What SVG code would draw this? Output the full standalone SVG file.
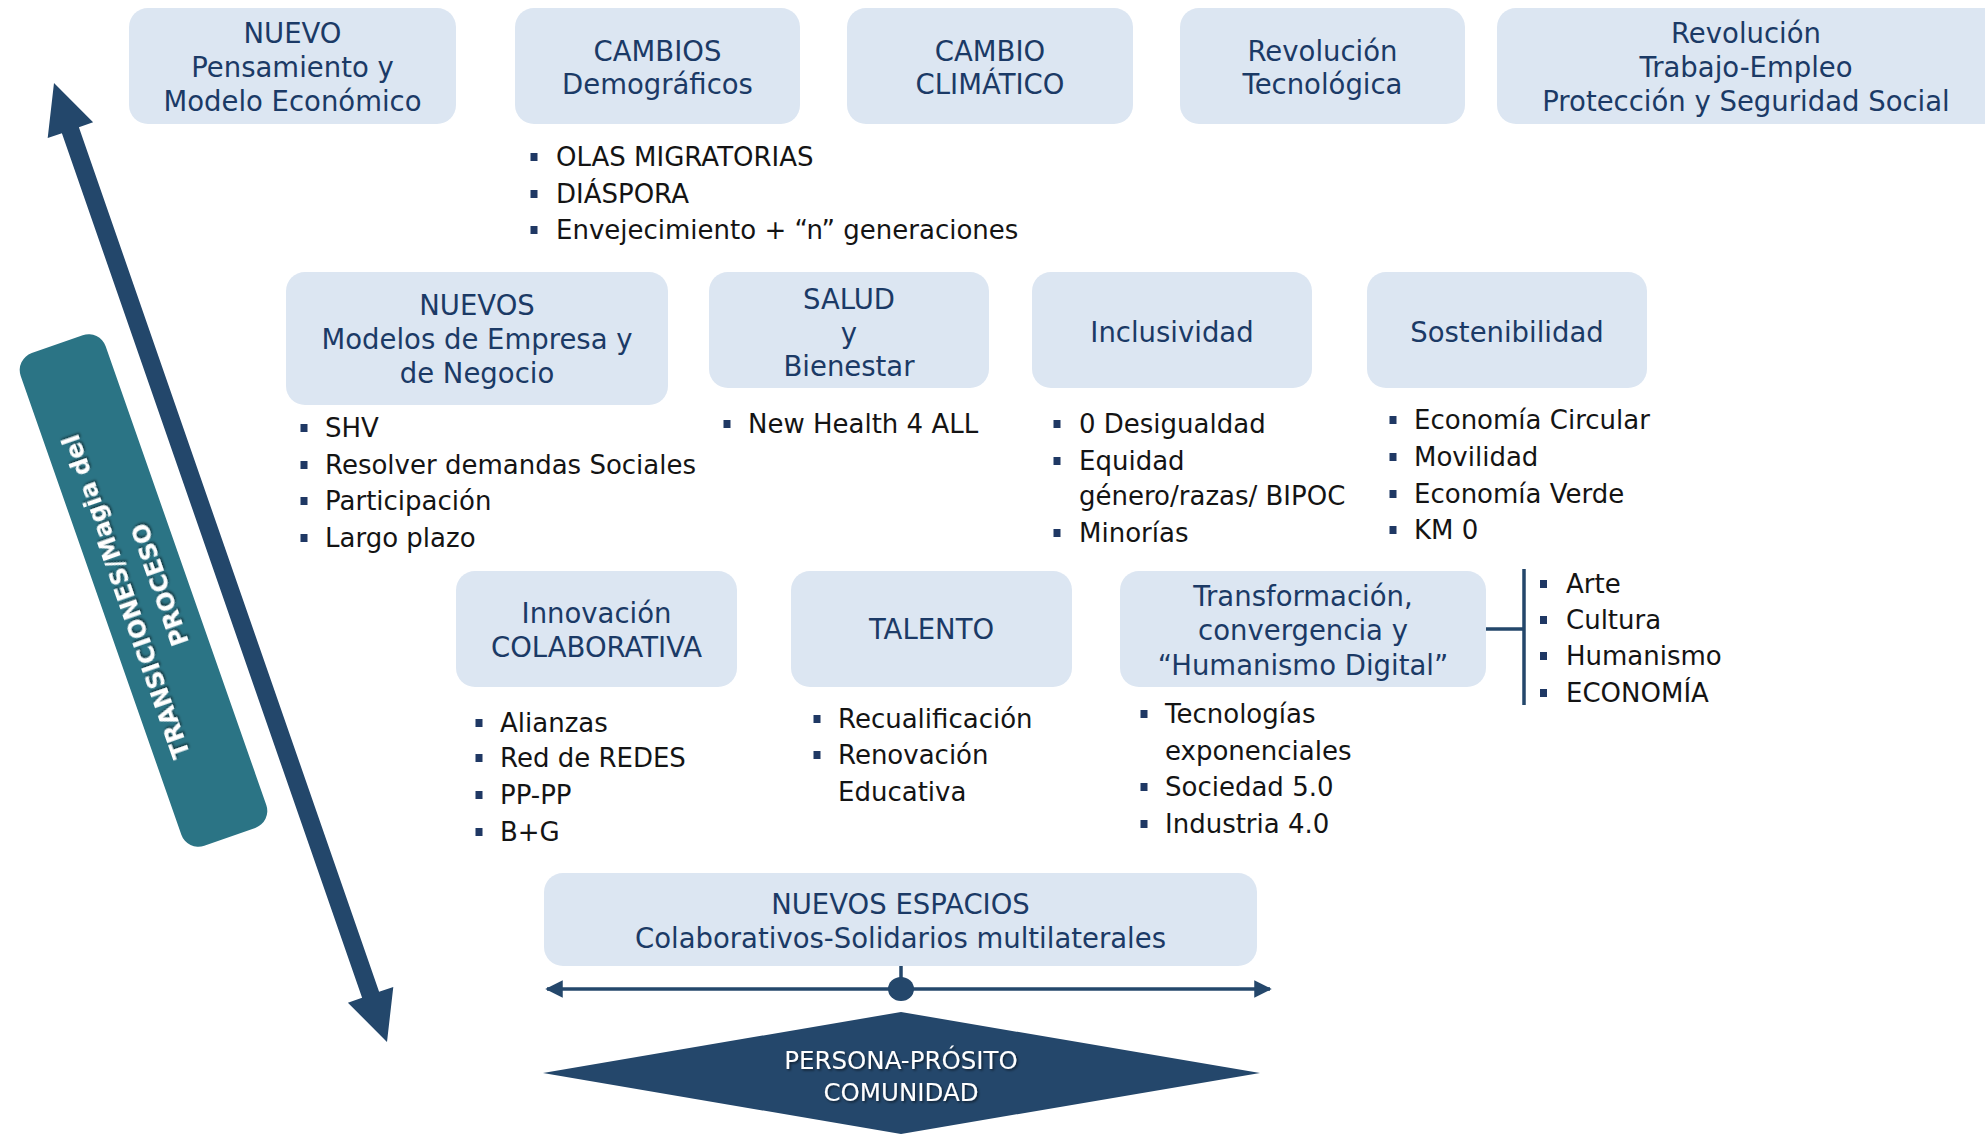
<svg xmlns="http://www.w3.org/2000/svg" xmlns:xlink="http://www.w3.org/1999/xlink" width="1985" height="1135" viewBox="0 0 1985 1135">
<style>
.box{fill:#dce6f2}
.t{font-family:"DejaVu Sans",sans-serif;font-size:27.5px;fill:#1b3a66;text-anchor:middle}
.b{font-family:"DejaVu Sans",sans-serif;font-size:26px;fill:#141414}
.sq{fill:#1f3864}
.ln{stroke:#24476b;stroke-width:3.5;fill:none}
.w{font-family:"DejaVu Sans",sans-serif;fill:#ffffff;text-anchor:middle}
</style>
<defs>
<rect id="sq" x="-3.5" y="-4" width="7" height="8" class="sq"/>
<filter id="sh" x="-10%" y="-30%" width="120%" height="160%">
<feDropShadow dx="1.5" dy="1.5" stdDeviation="1" flood-color="#000" flood-opacity="0.55"/>
</filter>
<marker id="ah" viewBox="0 0 10 10" refX="9" refY="5" markerWidth="5" markerHeight="5" orient="auto-start-reverse">
<path d="M0,0 L10,5 L0,10 z" fill="#24476b"/>
</marker>
</defs>

<g id="connectors">
<polygon fill="#23476b" points="54,83 93.1,122.3 78.9,127.2 379.1,991.8 393.3,986.9 387,1042 347.9,1002.7 362.1,997.8 61.9,133.2 47.7,138.1"/>
<path class="ln" d="M1486,629 H1524 M1524,569 V705"/>
<path class="ln" d="M901,966 V989"/>
<line class="ln" x1="547" y1="989" x2="1270" y2="989" marker-start="url(#ah)" marker-end="url(#ah)"/>
<ellipse cx="901" cy="989" rx="13" ry="12" fill="#24476b"/>
</g>

<g id="n-transiciones">
<rect x="98.5" y="329.5" width="90" height="522" rx="18" fill="#2b7485" transform="rotate(-19.3 143.5 590.5)"/>
<g transform="translate(143.5 590.5) rotate(-109.3)" filter="url(#sh)">
<text class="w" x="0" y="-10" font-size="24" font-weight="bold">TRANSICIONES/Magia del</text>
<text class="w" x="0" y="26" font-size="24" font-weight="bold">PROCESO</text>
</g>
</g>

<g id="n-nuevo">
<rect class="box" x="129" y="8" width="327" height="116" rx="19"/>
<text class="t" x="292.5" y="43">NUEVO</text>
<text class="t" x="292.5" y="77">Pensamiento y</text>
<text class="t" x="292.5" y="111">Modelo Económico</text>
</g>

<g id="n-cambios">
<rect class="box" x="515" y="8" width="285" height="116" rx="19"/>
<text class="t" x="657.5" y="61">CAMBIOS</text>
<text class="t" x="657.5" y="94">Demográficos</text>
<use href="#sq" x="534" y="157"/><text class="b" x="556" y="166">OLAS MIGRATORIAS</text>
<use href="#sq" x="534" y="194"/><text class="b" x="556" y="203">DIÁSPORA</text>
<use href="#sq" x="534" y="230"/><text class="b" x="556" y="239">Envejecimiento + “n” generaciones</text>
</g>

<g id="n-clima">
<rect class="box" x="847" y="8" width="286" height="116" rx="19"/>
<text class="t" x="990" y="61">CAMBIO</text>
<text class="t" x="990" y="94">CLIMÁTICO</text>
</g>

<g id="n-tecno">
<rect class="box" x="1180" y="8" width="285" height="116" rx="19"/>
<text class="t" x="1322.5" y="61">Revolución</text>
<text class="t" x="1322.5" y="94">Tecnológica</text>
</g>

<g id="n-trabajo">
<rect class="box" x="1497" y="8" width="520" height="116" rx="19"/>
<text class="t" x="1746" y="43">Revolución</text>
<text class="t" x="1746" y="77">Trabajo-Empleo</text>
<text class="t" x="1746" y="111">Protección y Seguridad Social</text>
</g>

<g id="n-modelos">
<rect class="box" x="286" y="272" width="382" height="133" rx="19"/>
<text class="t" x="477" y="315">NUEVOS</text>
<text class="t" x="477" y="349">Modelos de Empresa y</text>
<text class="t" x="477" y="383">de Negocio</text>
<use href="#sq" x="304" y="428"/><text class="b" x="325" y="437">SHV</text>
<use href="#sq" x="304" y="465"/><text class="b" x="325" y="474">Resolver demandas Sociales</text>
<use href="#sq" x="304" y="501"/><text class="b" x="325" y="510">Participación</text>
<use href="#sq" x="304" y="538"/><text class="b" x="325" y="547">Largo plazo</text>
</g>

<g id="n-salud">
<rect class="box" x="709" y="272" width="280" height="116" rx="19"/>
<text class="t" x="849" y="309">SALUD</text>
<text class="t" x="849" y="343">y</text>
<text class="t" x="849" y="376">Bienestar</text>
<use href="#sq" x="727" y="424"/><text class="b" x="748" y="433">New Health 4 ALL</text>
</g>

<g id="n-inclusividad">
<rect class="box" x="1032" y="272" width="280" height="116" rx="19"/>
<text class="t" x="1172" y="342">Inclusividad</text>
<use href="#sq" x="1057" y="424"/><text class="b" x="1079" y="433">0 Desigualdad</text>
<use href="#sq" x="1057" y="461"/><text class="b" x="1079" y="470">Equidad</text>
<text class="b" x="1079" y="505">género/razas/ BIPOC</text>
<use href="#sq" x="1057" y="533"/><text class="b" x="1079" y="542">Minorías</text>
</g>

<g id="n-sostenibilidad">
<rect class="box" x="1367" y="272" width="280" height="116" rx="19"/>
<text class="t" x="1507" y="342">Sostenibilidad</text>
<use href="#sq" x="1393" y="420"/><text class="b" x="1414" y="429">Economía Circular</text>
<use href="#sq" x="1393" y="457"/><text class="b" x="1414" y="466">Movilidad</text>
<use href="#sq" x="1393" y="494"/><text class="b" x="1414" y="503">Economía Verde</text>
<use href="#sq" x="1393" y="530"/><text class="b" x="1414" y="539">KM 0</text>
</g>

<g id="n-innovacion">
<rect class="box" x="456" y="571" width="281" height="116" rx="19"/>
<text class="t" x="596.5" y="623">Innovación</text>
<text class="t" x="596.5" y="657">COLABORATIVA</text>
<use href="#sq" x="479" y="723"/><text class="b" x="500" y="732">Alianzas</text>
<use href="#sq" x="479" y="758"/><text class="b" x="500" y="767">Red de REDES</text>
<use href="#sq" x="479" y="795"/><text class="b" x="500" y="804">PP-PP</text>
<use href="#sq" x="479" y="832"/><text class="b" x="500" y="841">B+G</text>
</g>

<g id="n-talento">
<rect class="box" x="791" y="571" width="281" height="116" rx="19"/>
<text class="t" x="931.5" y="639">TALENTO</text>
<use href="#sq" x="817" y="719"/><text class="b" x="838" y="728">Recualificación</text>
<use href="#sq" x="817" y="755"/><text class="b" x="838" y="764">Renovación</text>
<text class="b" x="838" y="801">Educativa</text>
</g>

<g id="n-transformacion">
<rect class="box" x="1120" y="571" width="366" height="116" rx="19"/>
<text class="t" x="1303" y="606">Transformación,</text>
<text class="t" x="1303" y="640">convergencia y</text>
<text class="t" x="1303" y="675">“Humanismo Digital”</text>
<use href="#sq" x="1144" y="714"/><text class="b" x="1165" y="723">Tecnologías</text>
<text class="b" x="1165" y="760">exponenciales</text>
<use href="#sq" x="1144" y="787"/><text class="b" x="1165" y="796">Sociedad 5.0</text>
<use href="#sq" x="1144" y="824"/><text class="b" x="1165" y="833">Industria 4.0</text>
</g>

<g id="n-humanismo-list">
<use href="#sq" x="1543.5" y="584"/><text class="b" x="1566" y="593">Arte</text>
<use href="#sq" x="1543.5" y="620"/><text class="b" x="1566" y="629">Cultura</text>
<use href="#sq" x="1543.5" y="656"/><text class="b" x="1566" y="665">Humanismo</text>
<use href="#sq" x="1543.5" y="693"/><text class="b" x="1566" y="702">ECONOMÍA</text>
</g>

<g id="n-espacios">
<rect class="box" x="544" y="873" width="713" height="93" rx="19"/>
<text class="t" x="900.5" y="914">NUEVOS ESPACIOS</text>
<text class="t" x="900.5" y="948">Colaborativos-Solidarios multilaterales</text>
</g>

<g id="n-persona">
<polygon points="543,1073 901,1012 1260,1073 901,1134" fill="#24476b"/>
<g filter="url(#sh)">
<text class="w" x="901" y="1069" font-size="24.5">PERSONA-PRÓSITO</text>
<text class="w" x="901" y="1101" font-size="24.5">COMUNIDAD</text>
</g>
</g>
</svg>
